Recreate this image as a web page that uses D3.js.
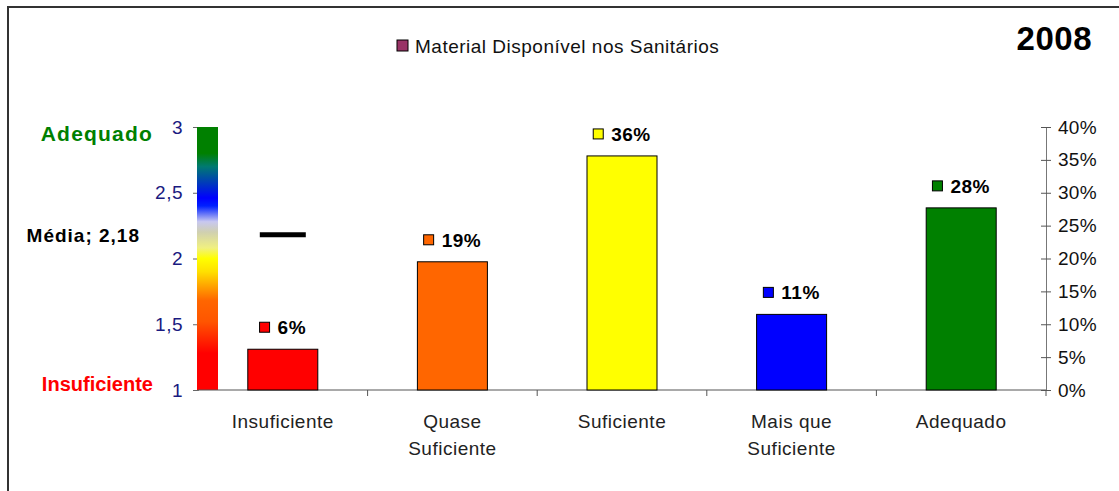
<!DOCTYPE html>
<html><head><meta charset="utf-8">
<script src="https://cdn.jsdelivr.net/npm/d3@7"></script>
<style>body{margin:0;background:#fff}svg{display:block;font-family:"Liberation Sans",Arial,sans-serif}</style>
</head><body>
<svg id="c" width="1119" height="491"></svg>
<script>
const categories = [["Insuficiente"],["Quase","Suficiente"],["Suficiente"],["Mais que","Suficiente"],["Adequado"]];
const values = [0.062, 0.195, 0.356, 0.115, 0.277];
const labels = ["6%","19%","36%","11%","28%"];
const colors = ["#ff0000","#ff6600","#ffff00","#0000ff","#008000"];
const leftTicks = [1,1.5,2,2.5,3];
const rightTicks = [0,0.05,0.1,0.15,0.2,0.25,0.3,0.35,0.4];
const mediaValue = 2.18;
const legendText = "Material Disponível nos Sanitários";
const yearTitle = "2008";

const FF = "Liberation Sans, Arial, sans-serif";
const svg = d3.select("#c");
const L = 198, R = 1046, T = 127, B = 390;
const x = d3.scaleBand().domain(d3.range(categories.length)).range([L, R]);
const yL = d3.scaleLinear().domain([1,3]).range([B, T]);
const yR = d3.scaleLinear().domain([0,0.4]).range([B, T]);

// frame
svg.append("path").attr("d","M8,500 V7 H1130").attr("fill","none").attr("stroke","#333").attr("stroke-width",2);

// gradient
const defs = svg.append("defs");
const g = defs.append("linearGradient").attr("id","grad").attr("x1",0).attr("y1",0).attr("x2",0).attr("y2",1);
[[0,"#008000"],[0.1,"#008000"],[0.15,"#007a70"],[0.27,"#0000ff"],[0.3,"#0020ff"],[0.36,"#c8c8f0"],[0.40,"#d0d0b0"],[0.46,"#f0f080"],[0.5,"#ffff00"],[0.55,"#ffe000"],[0.66,"#ff6600"],[0.74,"#ff5500"],[0.86,"#ff0000"],[1,"#ff0000"]]
  .forEach(([o,c])=>g.append("stop").attr("offset",o).attr("stop-color",c));

// axes
const axL = svg.append("g").attr("transform",`translate(${L},0)`)
  .call(d3.axisLeft(yL).tickValues(leftTicks).tickSize(5).tickFormat(d=>String(d).replace(".",",")));
axL.select(".domain").attr("stroke","#666");
axL.selectAll(".tick line").attr("stroke","#666");
axL.selectAll("text").attr("fill","#1a1a80").attr("font-size",19).attr("letter-spacing",0.5).attr("font-family",FF).attr("dx",-7);

svg.append("rect").attr("x",L-1).attr("y",T).attr("width",21).attr("height",B-T).attr("fill","url(#grad)");

const axR = svg.append("g").attr("transform",`translate(${R},0)`)
  .call(d3.axisRight(yR).tickValues(rightTicks).tickSize(5).tickFormat(d3.format(".0%")));
axR.select(".domain").attr("stroke","#777");
axR.selectAll(".tick line").attr("stroke","#555").attr("x1",-5);
axR.selectAll("text").attr("fill","#111").attr("font-size",19).attr("letter-spacing",0.3).attr("font-family",FF).attr("dx",4);

const axB = svg.append("g").attr("transform",`translate(0,${B})`);
axB.append("line").attr("x1",L).attr("x2",R).attr("stroke","#555");
axB.selectAll("line.t").data(d3.range(1,categories.length+1)).join("line").attr("class","t")
  .attr("x1",i=>L+x.step()*i).attr("x2",i=>L+x.step()*i).attr("y1",0).attr("y2",6).attr("stroke","#555");
const cl = axB.selectAll("text.c").data(categories).join("text").attr("class","c")
  .attr("x",(d,i)=>x(i)+x.bandwidth()/2).attr("y",38).attr("text-anchor","middle")
  .attr("font-size",19).attr("letter-spacing",0.5).attr("fill","#222");
cl.each(function(d){ d3.select(this).selectAll("tspan").data(d).join("tspan")
  .attr("x",d3.select(this).attr("x")).attr("dy",(t,j)=>j?27:0).text(t=>t); });

// bars
const bw = 70;
svg.selectAll("rect.bar").data(values).join("rect").attr("class","bar")
  .attr("x",(d,i)=>x(i)+x.bandwidth()/2-bw/2).attr("width",bw)
  .attr("y",d=>yR(d)).attr("height",d=>B-yR(d))
  .attr("fill",(d,i)=>colors[i]).attr("stroke","#000").attr("stroke-width",1);

// value labels
values.forEach((v,i)=>{
  const cx = x(i)+x.bandwidth()/2;
  const t = svg.append("text").attr("y",yR(v)-15).attr("font-size",19).attr("letter-spacing",0.5).attr("font-weight","bold").text(labels[i]);
  const tw = t.node().getComputedTextLength();
  const total = 10+8+tw;
  const x0 = cx - total/2;
  svg.append("rect").attr("x",x0).attr("y",yR(v)-27).attr("width",10).attr("height",10)
    .attr("fill",colors[i]).attr("stroke","#000").attr("stroke-width",1);
  t.attr("x",x0+18);
});

// media
const mx = x(0)+x.bandwidth()/2;
svg.append("line").attr("x1",mx-23).attr("x2",mx+23).attr("y1",yL(mediaValue)).attr("y2",yL(mediaValue))
  .attr("stroke","#000").attr("stroke-width",5);
svg.append("text").attr("x",140).attr("y",yL(mediaValue)+7).attr("text-anchor","end")
  .attr("font-size",19).attr("letter-spacing",1).attr("font-weight","bold").text("Média; "+String(mediaValue).replace(".",","));
svg.append("text").attr("x",153).attr("y",yL(3)+14).attr("text-anchor","end")
  .attr("font-size",21).attr("letter-spacing",1.2).attr("font-weight","bold").attr("fill","#008000").text("Adequado");
svg.append("text").attr("x",153).attr("y",yL(1)+1).attr("text-anchor","end")
  .attr("font-size",20).attr("letter-spacing",0).attr("font-weight","bold").attr("fill","#ff0000").text("Insuficiente");

// legend
svg.append("rect").attr("x",397).attr("y",40).attr("width",11).attr("height",11)
  .attr("fill","#993366").attr("stroke","#000");
svg.append("text").attr("x",415).attr("y",53).attr("font-size",19).attr("letter-spacing",0.5).attr("fill","#111").text(legendText);

// year
svg.append("text").attr("x",1092).attr("y",50).attr("text-anchor","end")
  .attr("font-size",33).attr("letter-spacing",0.5).attr("font-weight","bold").text(yearTitle);
</script>
</body></html>
